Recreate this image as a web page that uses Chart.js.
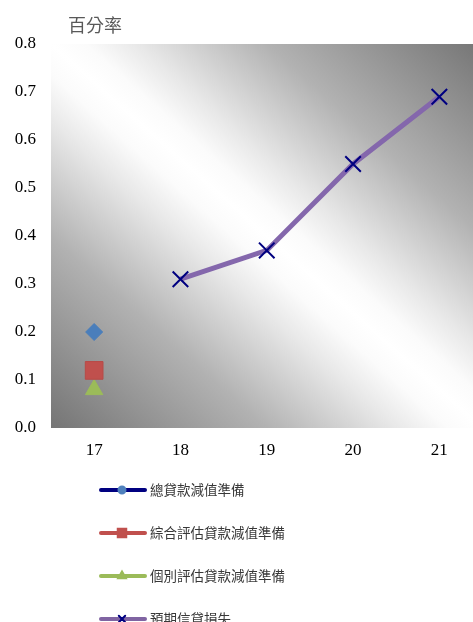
<!DOCTYPE html>
<html>
<head>
<meta charset="utf-8">
<script src="https://cdn.jsdelivr.net/npm/chart.js@4/dist/chart.umd.min.js"></script>
<style>
  html, body { margin: 0; padding: 0; overflow: hidden; background: #fff; }
  #chart { display: block; }
</style>
</head>
<body>
<!-- canvas is a bit wider than the window: the plot runs off the right edge -->
<canvas id="chart" width="496" height="660"></canvas>
<script>
// data
const years = ["17", "18", "19", "20", "21"];
const seriesNames = ["總貸款減值準備", "綜合評估貸款減值準備", "個別評估貸款減值準備", "預期信貸損失"];
const totalImpairment = [0.20, null, null, null, null];
const collectiveImpairment = [0.12, null, null, null, null];
const individualImpairment = [0.08, null, null, null, null];
const expectedCreditLoss = [null, 0.31, 0.37, 0.55, 0.69];
const yTicks = [0, 0.1, 0.2, 0.3, 0.4, 0.5, 0.6, 0.7, 0.8];
const axisTitle = "百分率";

const cjk = '"Noto Sans CJK TC", "Noto Sans CJK SC", sans-serif';
const serif = '"Liberation Serif", "DejaVu Serif", serif';

// gradient background: white along the top-left -> bottom-right diagonal,
// darker toward the other two corners
const plotBackground = {
  id: "plotBackground",
  beforeDatasetsDraw(chart) {
    const { ctx, chartArea: a } = chart;
    const W = a.right - a.left, H = a.bottom - a.top;
    const cx = a.left + W / 2, cy = a.top + H / 2;
    const k = (W * H) / (W * W + H * H);
    const g = ctx.createLinearGradient(cx - k * H, cy + k * W, cx + k * H, cy - k * W);
    g.addColorStop(0, "#757575");
    g.addColorStop(0.25, "#b2b2b2");
    g.addColorStop(0.4, "#e8e8e8");
    g.addColorStop(0.46, "#fbfbfb");
    g.addColorStop(0.5, "#ffffff");
    g.addColorStop(0.54, "#fbfbfb");
    g.addColorStop(0.6, "#e8e8e8");
    g.addColorStop(0.75, "#b2b2b2");
    g.addColorStop(1, "#757575");
    ctx.save();
    ctx.fillStyle = g;
    ctx.fillRect(a.left, a.top, W, H);
    ctx.restore();
  }
};

// title above the y axis + a one-per-row legend under the chart
const extras = {
  id: "extras",
  afterDraw(chart) {
    const ctx = chart.ctx;
    ctx.save();
    ctx.font = "18px " + cjk;
    ctx.fillStyle = "#595959";
    ctx.textBaseline = "middle";
    ctx.textAlign = "left";
    ctx.fillText(axisTitle, 68, 25);

    const legendMarkers = [
      { style: "circle", r: 3.5, fill: "#4F81BD", stroke: "#4F81BD" },
      { style: "rect", r: 6, fill: "#C0504D", stroke: "#C0504D" },
      { style: "triangle", r: 4.5, fill: "#9BBB59", stroke: "#9BBB59" },
      { style: "crossRot", r: 4.5, fill: "#000080", stroke: "#000080" }
    ];
    chart.data.datasets.forEach((ds, i) => {
      const y = 490 + i * 43;
      ctx.strokeStyle = ds.legendLine;
      ctx.lineWidth = 4;
      ctx.lineCap = "round";
      ctx.beginPath();
      ctx.moveTo(101, y);
      ctx.lineTo(145, y);
      ctx.stroke();
      const m = legendMarkers[i];
      ctx.fillStyle = m.fill;
      ctx.strokeStyle = m.stroke;
      ctx.lineWidth = 2;
      Chart.helpers.drawPoint(ctx, { pointStyle: m.style, radius: m.r, rotation: 0, borderWidth: 2 }, 122, y);
      ctx.font = "13.5px " + cjk;
      ctx.fillStyle = "#383838";
      ctx.textBaseline = "middle";
      ctx.fillText(ds.label, 150, y);
    });
    ctx.restore();
  }
};

new Chart(document.getElementById("chart"), {
  type: "line",
  data: {
    labels: years,
    datasets: [
      {
        label: seriesNames[0],
        data: totalImpairment,
        legendLine: "#000080",
        borderColor: "#000080",
        pointStyle: "rectRot",
        pointRadius: 8.5,
        pointBackgroundColor: "#4A7EBB",
        pointBorderColor: "#4A7EBB",
        pointBorderWidth: 1
      },
      {
        label: seriesNames[1],
        data: collectiveImpairment,
        legendLine: "#C0504D",
        borderColor: "#C0504D",
        pointStyle: "rect",
        pointRadius: 12.5,
        pointBackgroundColor: "#C0504D",
        pointBorderColor: "#B84A47",
        pointBorderWidth: 1
      },
      {
        label: seriesNames[2],
        data: individualImpairment,
        legendLine: "#9BBB59",
        borderColor: "#9BBB59",
        pointStyle: "triangle",
        pointRadius: 10,
        pointBackgroundColor: "#9BBB59",
        pointBorderColor: "#9BBB59",
        pointBorderWidth: 1
      },
      {
        label: seriesNames[3],
        data: expectedCreditLoss,
        legendLine: "#8064A2",
        borderColor: "#8467AC",
        borderWidth: 5,
        tension: 0,
        pointStyle: "crossRot",
        pointRadius: 11,
        pointBorderColor: "#000080",
        pointBorderWidth: 2
      }
    ]
  },
  options: {
    responsive: false,
    animation: false,
    layout: { padding: { top: 44, right: 0, left: 0, bottom: 192 } },
    plugins: {
      legend: { display: false },
      tooltip: { enabled: false }
    },
    scales: {
      x: {
        offset: true,
        grid: { display: false, drawTicks: false },
        border: { display: false },
        ticks: { color: "#000", font: { family: serif, size: 17 }, padding: 12 },
        afterFit(scale) { scale.height = 40; }
      },
      y: {
        min: 0,
        max: 0.8,
        grid: { display: false, drawTicks: false },
        border: { display: false },
        afterBuildTicks(scale) { scale.ticks = yTicks.map(v => ({ value: v })); },
        ticks: {
          color: "#000",
          font: { family: serif, size: 17 },
          padding: 15,
          callback: v => v.toFixed(1)
        },
        afterFit(scale) { scale.width = 51; }
      }
    }
  },
  plugins: [plotBackground, extras]
});
</script>
</body>
</html>
